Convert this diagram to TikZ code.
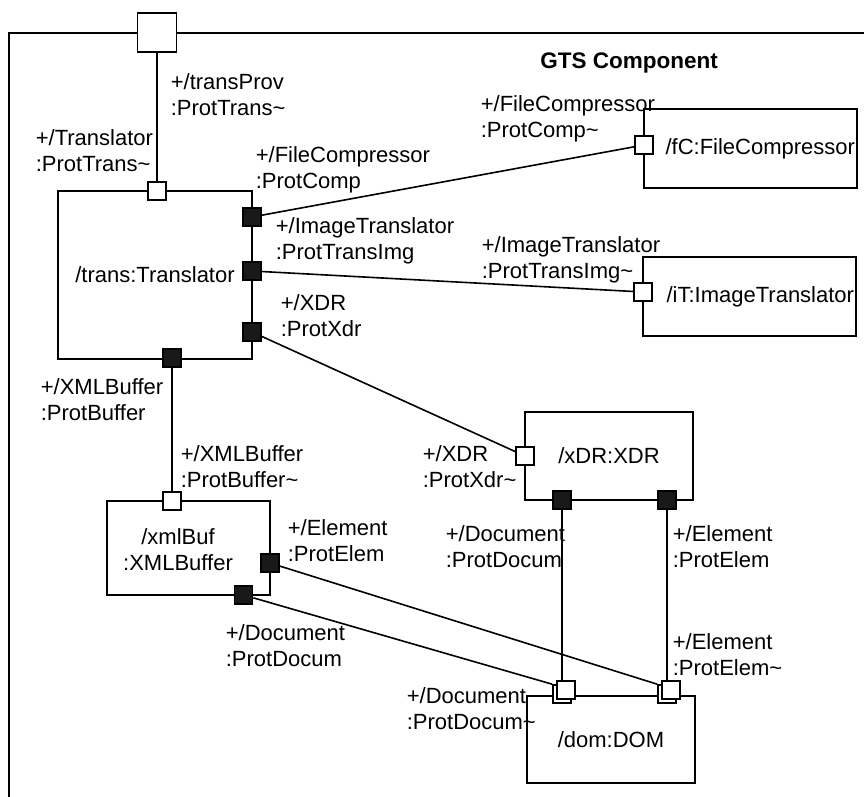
\documentclass[tikz,border=0pt]{standalone}
\usepackage{fontspec}
\setmainfont{Liberation Sans}
\usetikzlibrary{shadows}

\tikzset{
	txt/.style={font=\fontsize{22pt}{26pt}\selectfont},
	part/.style={txt, draw, fill=white, inner sep=2pt},
	port/.style={draw, fill=white, inner sep=0pt, minimum size=18pt},
	bport/.style={port, fill=black!90},
	mport/.style={port, copy shadow={shadow xshift=-4pt, shadow yshift=-4pt, draw, fill=white}},
	lbl/.style={txt, align=left, inner sep=0pt, anchor=west}
}

\begin{document}
\begin{tikzpicture}[x=1pt, y=-1pt, line width=1.6pt]
	\useasboundingbox (0,0) rectangle (864,797);
	\draw[line width=2.7pt] (9,797) -- (9,33) -- (864,33);
	\node[txt, font=\bfseries\fontsize{22.5pt}{26pt}\selectfont, anchor=east] (title) at (722,63) {GTS Component};

	\node[part, minimum width=194pt, minimum height=168pt] (trans) at (155,275) {/trans:Translator};
	\node[part, minimum width=213pt, minimum height=79pt, text width=209pt, align=right] (fC) at (750.5,148.5) {/fC:FileCompressor};
	\node[part, minimum width=213pt, minimum height=79pt, text width=209pt, align=right] (iT) at (749.5,296.5) {/iT:ImageTranslator};
	\node[part, minimum width=168pt, minimum height=88pt] (xDR) at (609,456) {/xDR:XDR};
	\node[part, minimum width=168pt, minimum height=87pt] (dom) at (611,739.5) {/dom:DOM};
	\node[part, minimum width=163pt, minimum height=94pt] (xmlBuf) at (188.5,548) {};
	\node[txt, align=center] (xmlBufName) at (178,550) {/xmlBuf\\:XMLBuffer};

	\node[port, minimum size=39pt] (pTransProv) at (157,32.5) {};
	\node[port] (pTrans) at (157,191) {};
	\node[bport] (pComp) at (252,217) {};
	\node[bport] (pImg) at (252,271) {};
	\node[bport] (pXdr) at (252,332) {};
	\node[bport] (pBuf) at (172,358) {};
	\node[port] (pCompT) at (644,145) {};
	\node[port] (pImgT) at (643,292) {};
	\node[port] (pXdrT) at (525,456) {};
	\node[bport] (pDoc) at (562,500) {};
	\node[bport] (pElem) at (667,500) {};
	\node[port] (pBufT) at (172,501) {};
	\node[bport] (pElemB) at (270,563) {};
	\node[bport] (pDocB) at (243.5,595) {};
	\node[mport] (pDocD) at (566,690) {};
	\node[mport] (pElemD) at (671,690) {};

	\draw (pTransProv) -- (pTrans);
	\draw (pComp) -- (pCompT);
	\draw (pImg) -- (pImgT);
	\draw (pXdr) -- (pXdrT);
	\draw (pBuf) -- (pBufT);
	\draw (pDoc) -- (pDoc |- pDocD.north);
	\draw (pElem) -- (pElem |- pElemD.north);
	\draw (pElemB) -- ([shift={(-4pt,-4pt)}]pElemD.north west);
	\draw (pDocB) -- ([shift={(-4pt,-4pt)}]pDocD.north west);

	\node[lbl] (lTransProv) at (170,94.5) {+/transProv\\:ProtTrans\textasciitilde};
	\node[lbl] (lTrans) at (35,150.5) {+/Translator\\:ProtTrans\textasciitilde};
	\node[lbl] (lComp) at (255,170) {+/FileCompressor\\:ProtComp};
	\node[lbl] (lImg) at (275,241) {+/ImageTranslator\\:ProtTransImg};
	\node[lbl] (lXdr) at (280,316) {+/XDR\\:ProtXdr};
	\node[lbl] (lCompT) at (480,119) {+/FileCompressor\\:ProtComp\textasciitilde};
	\node[lbl] (lImgT) at (481,260) {+/ImageTranslator\\:ProtTransImg\textasciitilde};
	\node[lbl] (lBuf) at (40,400) {+/XMLBuffer\\:ProtBuffer};
	\node[lbl] (lBufT) at (180,467) {+/XMLBuffer\\:ProtBuffer\textasciitilde};
	\node[lbl] (lElemB) at (287,541) {+/Element\\:ProtElem};
	\node[lbl] (lXdrT) at (422,467) {+/XDR\\:ProtXdr\textasciitilde};
	\node[lbl] (lDoc) at (445,547) {+/Document\\:ProtDocum};
	\node[lbl] (lElem) at (672,547) {+/Element\\:ProtElem};
	\node[lbl] (lElemD) at (672,655) {+/Element\\:ProtElem\textasciitilde};
	\node[lbl] (lDocD) at (406,709) {+/Document\\:ProtDocum\textasciitilde};
	\node[lbl] (lDocB) at (225,646) {+/Document\\:ProtDocum};
\end{tikzpicture}
\end{document}
